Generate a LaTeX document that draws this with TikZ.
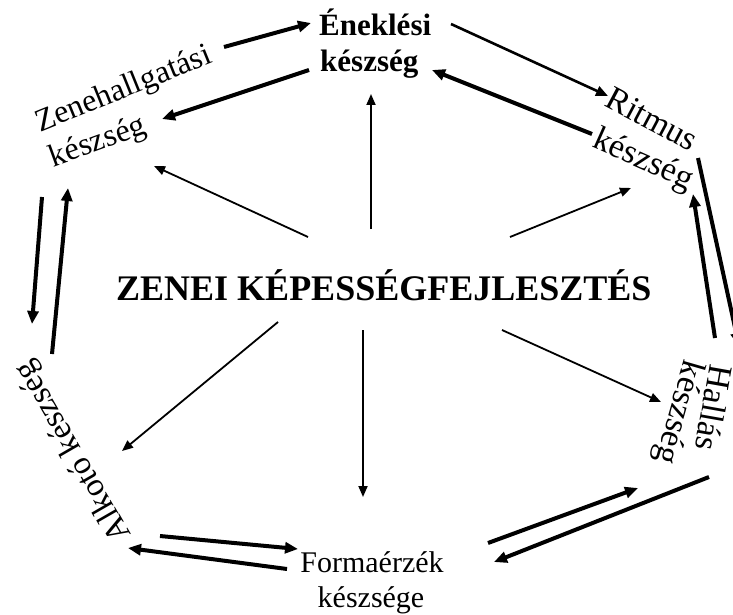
\documentclass[tikz,border=0pt]{standalone}
\usepackage{fontspec}
\setmainfont{Liberation Serif}
\usetikzlibrary{arrows.meta}
\begin{document}
\begin{tikzpicture}[x=1pt,y=-1pt,
  lbl/.style={inner sep=0pt, font=\fontsize{30}{35}\selectfont},
  rotlbl/.style={inner sep=0pt, font=\fontsize{#1}{#1}\selectfont},
  boldlbl/.style={inner sep=0pt, font=\bfseries\fontsize{31}{36}\selectfont},
  titlelbl/.style={inner sep=0pt, font=\bfseries\fontsize{36}{40}\selectfont},
  bigarrow/.style={line width=4pt,-{Triangle[length=13pt,width=11pt]}},
  midarrow/.style={line width=2.6pt,-{Triangle[length=12pt,width=10pt]}},
  smallarrow/.style={line width=1.8pt,-{Triangle[length=11pt,width=9pt]}}]
\clip (0,0) rectangle (733,615);
% labels
\node[boldlbl, anchor=base west] (ene1) at (319,36) {Éneklési};
\node[boldlbl, anchor=base west] (ene2) at (320,72) {készség};
\node[rotlbl=32, rotate=22] (zen1) at (124,90) {Zenehallgatási};
\node[rotlbl=32, rotate=20] (zen2) at (98,143) {készség};
\node[rotlbl=34, rotate=-28] (rit1) at (652,119) {Ritmus};
\node[rotlbl=34, rotate=-24] (rit2) at (643,161) {készség};
\node[rotlbl=34, rotate=-100] (hal1) at (714,408) {Hallás};
\node[rotlbl=34, rotate=-106] (hal2) at (678,412) {készség};
\node[rotlbl=33, rotate=120] (alk) at (74,451) {Alkotó készség};
\node[lbl, anchor=base] (for1) at (372,572) {Formaérzék};
\node[lbl, anchor=base] (for2) at (371,607) {készsége};
\node[titlelbl, anchor=base west] (zk) at (116,300) {ZENEI KÉPESSÉGFEJLESZTÉS};
% connector end points
\coordinate (t1a) at (224,47);  \coordinate (t1b) at (311,23);
\coordinate (t2a) at (309,70);  \coordinate (t2b) at (162,119);
\coordinate (t3a) at (451,24);  \coordinate (t3b) at (608,96);
\coordinate (t4a) at (592,134); \coordinate (t4b) at (432,70);
\coordinate (t5a) at (698,158); \coordinate (t5b) at (739,346);
\coordinate (t6a) at (715,338); \coordinate (t6b) at (693,194);
\coordinate (t7a) at (488,543); \coordinate (t7b) at (638,488);
\coordinate (t8a) at (709,477); \coordinate (t8b) at (494,562);
\coordinate (t9a) at (160,536); \coordinate (t9b) at (298,549);
\coordinate (t10a) at (287,569); \coordinate (t10b) at (128,548);
\coordinate (t11a) at (42,197); \coordinate (t11b) at (32,324);
\coordinate (t12a) at (52,354); \coordinate (t12b) at (68,188);
\coordinate (c1a) at (308,237); \coordinate (c1b) at (154,166);
\coordinate (c2a) at (371,229); \coordinate (c2b) at (371,94);
\coordinate (c3a) at (510,237); \coordinate (c3b) at (631,188);
\coordinate (c4a) at (278,322); \coordinate (c4b) at (122,451);
\coordinate (c5a) at (363,330); \coordinate (c5b) at (363,497);
\coordinate (c6a) at (502,330); \coordinate (c6b) at (661,402);
% ring connectors
\draw[bigarrow] (t1a) -- (t1b);
\draw[bigarrow] (t2a) -- (t2b);
\draw[midarrow] (t3a) -- (t3b);
\draw[bigarrow] (t4a) -- (t4b);
\draw[bigarrow] (t5a) -- (t5b);
\draw[bigarrow] (t6a) -- (t6b);
\draw[bigarrow] (t7a) -- (t7b);
\draw[bigarrow] (t8a) -- (t8b);
\draw[bigarrow] (t9a) -- (t9b);
\draw[bigarrow] (t10a) -- (t10b);
\draw[bigarrow] (t11a) -- (t11b);
\draw[bigarrow] (t12a) -- (t12b);
% centre connectors
\draw[smallarrow] (c1a) -- (c1b);
\draw[smallarrow] (c2a) -- (c2b);
\draw[smallarrow] (c3a) -- (c3b);
\draw[smallarrow] (c4a) -- (c4b);
\draw[smallarrow] (c5a) -- (c5b);
\draw[smallarrow] (c6a) -- (c6b);
\end{tikzpicture}
\end{document}
